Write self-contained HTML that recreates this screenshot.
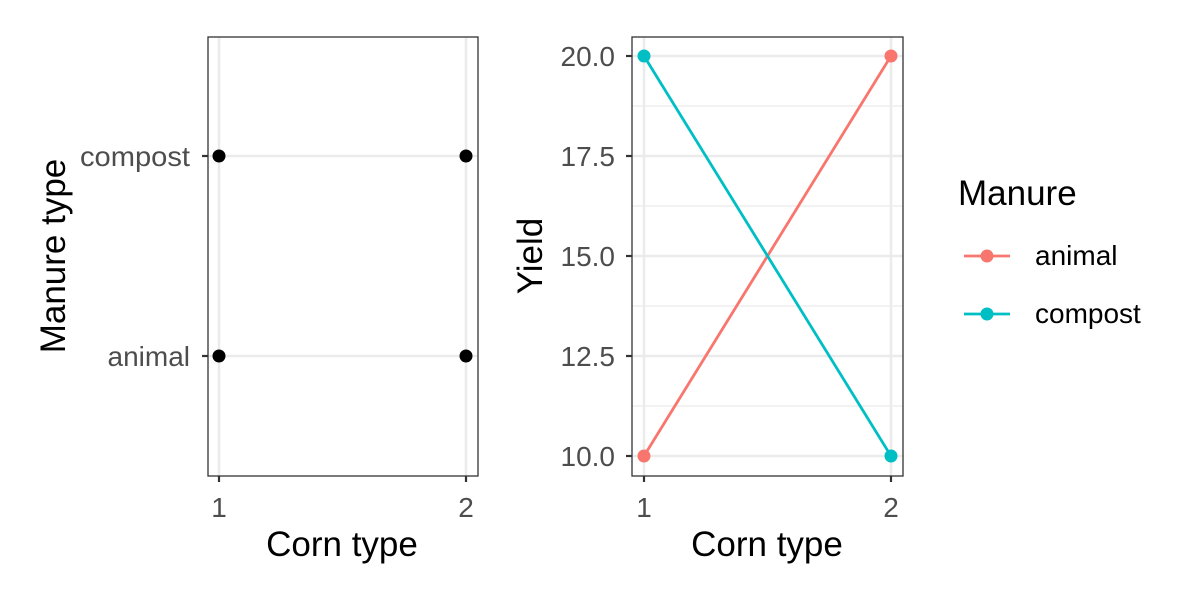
<!DOCTYPE html>
<html><head><style>body{margin:0;background:#fff}svg{display:block}</style></head><body>
<svg width="1200" height="600" xmlns="http://www.w3.org/2000/svg" font-family="Liberation Sans, Arial, sans-serif">
<rect width="1200" height="600" fill="#fff"/>
<!-- left panel -->
<g stroke="#ebebeb" stroke-width="2.5">
<line x1="208" x2="478" y1="156" y2="156"/><line x1="208" x2="478" y1="356" y2="356"/>
<line x1="219" x2="219" y1="37" y2="476"/><line x1="466" x2="466" y1="37" y2="476"/>
</g>
<rect x="208" y="37" width="270" height="439" fill="none" stroke="#333" stroke-width="1.3"/>
<g stroke="#333" stroke-width="2.2">
<line x1="202" x2="208" y1="156" y2="156"/><line x1="202" x2="208" y1="356" y2="356"/>
<line x1="219" x2="219" y1="476" y2="482"/><line x1="466" x2="466" y1="476" y2="482"/>
</g>
<g fill="#000"><circle cx="219" cy="156" r="6.5"/><circle cx="466" cy="156" r="6.5"/><circle cx="219" cy="356" r="6.5"/><circle cx="466" cy="356" r="6.5"/></g>
<g fill="#4d4d4d" font-size="28">
<text x="190" y="166" text-anchor="end" textLength="110" lengthAdjust="spacingAndGlyphs">compost</text><text x="190" y="366" text-anchor="end">animal</text>
<text x="219" y="517" text-anchor="middle">1</text><text x="466" y="517" text-anchor="middle">2</text>
</g>
<text x="342" y="556" font-size="35" text-anchor="middle">Corn type</text>
<text transform="translate(65,256) rotate(-90)" font-size="35" text-anchor="middle">Manure type</text>
<!-- right panel -->
<g stroke="#ebebeb" stroke-width="1.3">
<line x1="632" x2="903" y1="106" y2="106"/><line x1="632" x2="903" y1="206" y2="206"/><line x1="632" x2="903" y1="306" y2="306"/><line x1="632" x2="903" y1="406" y2="406"/>
</g>
<g stroke="#ebebeb" stroke-width="2.5">
<line x1="632" x2="903" y1="56" y2="56"/><line x1="632" x2="903" y1="156" y2="156"/><line x1="632" x2="903" y1="256" y2="256"/><line x1="632" x2="903" y1="356" y2="356"/><line x1="632" x2="903" y1="456" y2="456"/>
<line x1="644" x2="644" y1="37" y2="476"/><line x1="891" x2="891" y1="37" y2="476"/>
</g>
<line x1="644" y1="456" x2="891" y2="56" stroke="#F8766D" stroke-width="2.8"/>
<line x1="644" y1="56" x2="891" y2="456" stroke="#00BFC4" stroke-width="2.8"/>
<circle cx="644" cy="456" r="6.5" fill="#F8766D"/><circle cx="891" cy="56" r="6.5" fill="#F8766D"/>
<circle cx="644" cy="56" r="6.5" fill="#00BFC4"/><circle cx="891" cy="456" r="6.5" fill="#00BFC4"/>
<rect x="632" y="37" width="271" height="439" fill="none" stroke="#333" stroke-width="1.3"/>
<g stroke="#333" stroke-width="2.2">
<line x1="626" x2="632" y1="56" y2="56"/><line x1="626" x2="632" y1="156" y2="156"/><line x1="626" x2="632" y1="256" y2="256"/><line x1="626" x2="632" y1="356" y2="356"/><line x1="626" x2="632" y1="456" y2="456"/>
<line x1="644" x2="644" y1="476" y2="482"/><line x1="891" x2="891" y1="476" y2="482"/>
</g>
<g fill="#4d4d4d" font-size="28" text-anchor="end">
<text x="615" y="66">20.0</text><text x="615" y="166">17.5</text><text x="615" y="266">15.0</text><text x="615" y="366">12.5</text><text x="615" y="466">10.0</text>
</g>
<g fill="#4d4d4d" font-size="28" text-anchor="middle"><text x="644" y="517">1</text><text x="891" y="517">2</text></g>
<text x="767" y="556" font-size="35" text-anchor="middle">Corn type</text>
<text transform="translate(542,256) rotate(-90)" font-size="35" text-anchor="middle">Yield</text>
<!-- legend -->
<text x="958" y="205" font-size="35">Manure</text>
<line x1="964" x2="1010" y1="256" y2="256" stroke="#F8766D" stroke-width="2.8"/><circle cx="987" cy="256" r="6.5" fill="#F8766D"/>
<line x1="964" x2="1010" y1="314" y2="314" stroke="#00BFC4" stroke-width="2.8"/><circle cx="987" cy="314" r="6.5" fill="#00BFC4"/>
<text x="1035" y="265" font-size="28">animal</text>
<text x="1035" y="323" font-size="28">compost</text>
</svg>
</body></html>
